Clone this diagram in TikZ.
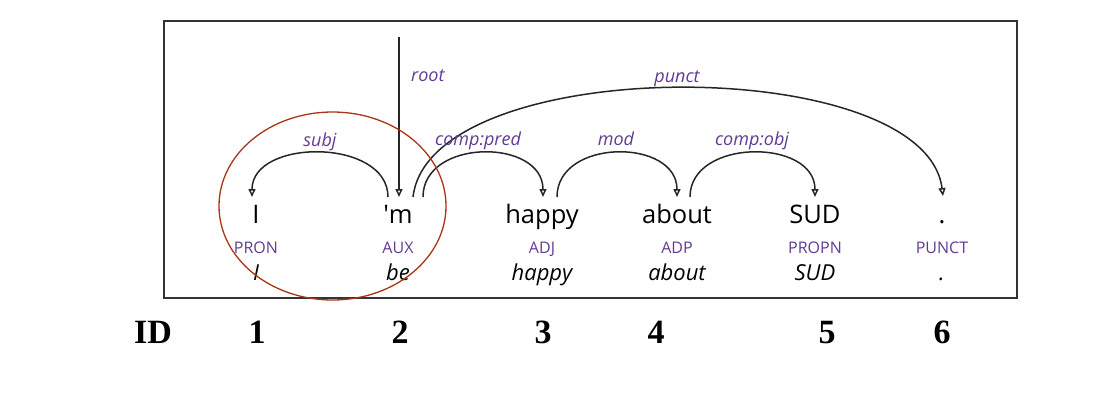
\documentclass[tikz,border=0pt]{standalone}
\usepackage{fontspec}
\setmainfont{Open Sans}
\newfontfamily\idfont{Liberation Serif}
\usetikzlibrary{arrows.meta}
\definecolor{relpurple}{RGB}{98,58,150}
\definecolor{ringred}{RGB}{170,52,22}
\begin{document}
\begin{tikzpicture}[x=1pt,y=-1pt,
    word/.style={anchor=base,inner sep=0pt,font=\fontsize{25.5}{25}\selectfont},
    upos/.style={anchor=base,inner sep=0pt,text=relpurple,font=\fontsize{16}{16}\selectfont},
    lemma/.style={anchor=base,inner sep=0pt,font=\fontsize{22}{22}\selectfont\itshape},
    rel/.style={anchor=base,inner sep=0pt,text=relpurple,font=\fontsize{18}{18}\selectfont\itshape},
    dep/.style={line width=1.5pt,black!85,-{Triangle[open,length=8pt,width=7pt]}},
    idnum/.style={anchor=base,inner sep=0pt,font=\fontsize{34}{34}\selectfont\idfont\bfseries}]
  \useasboundingbox (0,0) rectangle (1120,413);
  \draw[line width=1.2pt, black!80] (164,21) rectangle (1017,298); % frame
  % tokens: form, upos, lemma
  \foreach \x/\f/\p/\l [count=\i] in {256/I/PRON/I, 398/\textquotesingle m/AUX/be, 542/happy/ADJ/happy,
      677/about/ADP/about, 815/SUD/PROPN/SUD, 942/./PUNCT/.} {
    \node[word] (w\i) at (\x,223) {\f};
    \node[upos] (p\i) at (\x,253) {\p};
    \node[lemma] (l\i) at (\x,280) {\l};
  }
  % arc ends
  \coordinate (top) at (399,37);
  \coordinate (w1in) at (252,197);
  \coordinate (w2in) at (399,197);
  \coordinate (w2subj) at (388,197);
  \coordinate (w2punct) at (413,197);
  \coordinate (w2pred) at (423,197);
  \coordinate (w3in) at (543,197);
  \coordinate (w3out) at (557,197);
  \coordinate (w4in) at (677,197);
  \coordinate (w4out) at (690,197);
  \coordinate (w5in) at (815,197);
  \coordinate (w6in) at (943,196);
  \draw[dep] (top) -- (w2in);
  \draw[dep] (w2subj) .. controls +(0,-59) and +(0,-59) .. (w1in);
  \draw[dep] (w2pred) .. controls +(0,-59) and +(0,-59) .. (w3in);
  \draw[dep] (w3out) .. controls +(0,-59) and +(0,-59) .. (w4in);
  \draw[dep] (w4out) .. controls +(0,-59) and +(0,-59) .. (w5in);
  \draw[dep] (w2punct) .. controls (430,52) and (925,52) .. (w6in);
  \node[rel, anchor=base west] (rroot) at (411,81) {root};
  \node[rel] (rsubj) at (320,146) {subj};
  \node[rel] (rpred) at (478,145) {comp:pred};
  \node[rel] (rmod) at (616,145) {mod};
  \node[rel] (robj) at (752,145) {comp:obj};
  \node[rel] (rpunct) at (677,82) {punct};
  % ID row
  \node[idnum] (id) at (153,343) {ID};
  \node[idnum] (id1) at (257,343) {1};
  \node[idnum] (id2) at (400,343) {2};
  \node[idnum] (id3) at (543,343) {3};
  \node[idnum] (id4) at (656,343) {4};
  \node[idnum] (id5) at (827,343) {5};
  \node[idnum] (id6) at (942,343) {6};
  \draw[ringred, line width=1.3pt] (332.5,206) ellipse [x radius=113.5pt, y radius=94pt]; % I 'm
\end{tikzpicture}
\end{document}
